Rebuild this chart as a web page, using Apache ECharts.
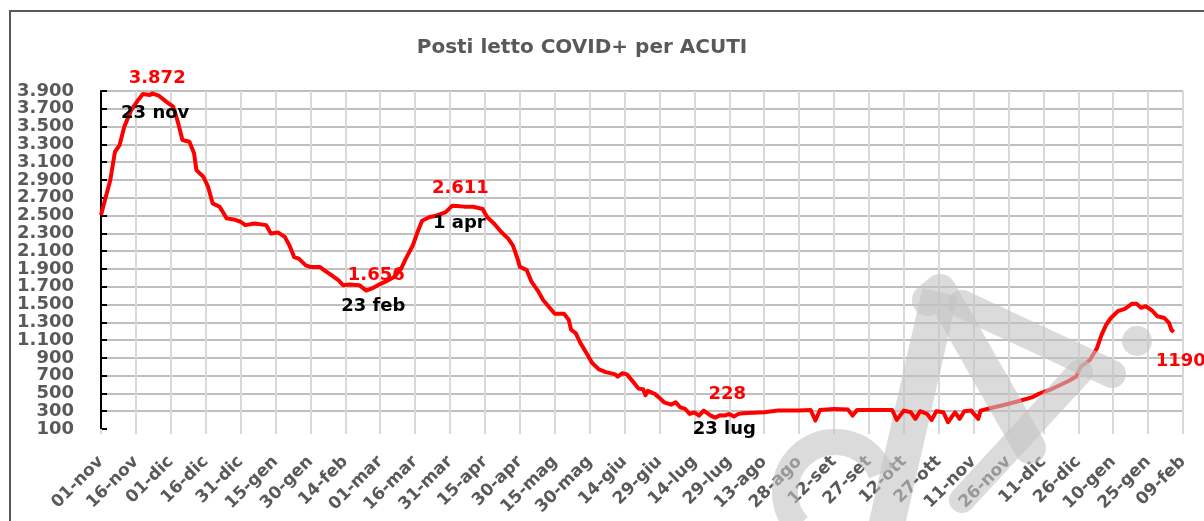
<!DOCTYPE html>
<html>
<head>
<meta charset="utf-8">
<script src="https://cdn.jsdelivr.net/npm/echarts@6/dist/echarts.min.js"></script>
<style>
  html, body { margin: 0; padding: 0; background: #fff; }
  #chart { width: 1204px; height: 521px; }
</style>
</head>
<body>
<div id="chart"></div>
<script>
// giorni contati dal 01-nov-2020
const etichette = ['01-nov', '16-nov', '01-dic', '16-dic', '31-dic', '15-gen', '30-gen', '14-feb',
  '01-mar', '16-mar', '31-mar', '15-apr', '30-apr', '15-mag', '30-mag', '14-giu', '29-giu',
  '14-lug', '29-lug', '13-ago', '28-ago', '12-set', '27-set', '12-ott', '27-ott', '11-nov',
  '26-nov', '11-dic', '26-dic', '10-gen', '25-gen', '09-feb'];

const giorni = [0, 4, 6, 8, 10, 13, 16, 18, 21, 22, 25, 28, 31, 33, 35, 38, 40, 41, 44, 46, 48,
  51, 54, 57, 60, 62, 66, 71, 73, 76, 79, 81, 83, 85, 88, 90, 94, 96, 99, 102, 104, 107, 111,
  114, 117, 119, 122, 126, 129, 131, 134, 136, 138, 141, 144, 148, 151, 153, 156, 160, 164,
  166, 169, 172, 175, 177, 179, 180, 183, 185, 188, 190, 193, 195, 199, 201, 202, 204, 206,
  209, 211, 214, 217, 221, 222, 224, 226, 229, 231, 233, 234, 235, 238, 240, 242, 245, 247,
  249, 251, 253, 255, 257, 259, 261, 262, 264, 266, 268, 270, 272, 274, 276, 285, 291, 300,
  305, 307, 309, 315, 321, 323, 325, 340, 342, 345, 348, 350, 352, 355, 357, 359, 362, 364,
  367, 369, 371, 374, 377, 378, 382, 388, 395, 400, 403, 408, 412, 416, 419, 421, 423, 425,
  428, 430, 432, 434, 437, 440, 443, 445, 447, 449, 452, 454, 457, 459, 460, 461];

const posti = [2505, 2899, 3217, 3292, 3499, 3686, 3799, 3866, 3855, 3872, 3844, 3780, 3724,
  3555, 3349, 3330, 3199, 3011, 2936, 2824, 2636, 2599, 2468, 2456, 2430, 2392, 2411, 2392,
  2299, 2310, 2260, 2163, 2033, 2015, 1940, 1922, 1922, 1884, 1829, 1773, 1717, 1724, 1717,
  1656, 1687, 1717, 1754, 1810, 1903, 2015, 2163, 2312, 2442, 2480, 2498, 2535, 2611, 2608,
  2600, 2598, 2574, 2481, 2407, 2314, 2240, 2165, 2016, 1923, 1886, 1756, 1644, 1551, 1458,
  1395, 1395, 1328, 1217, 1179, 1068, 938, 845, 770, 740, 714, 688, 726, 714, 621, 554, 547,
  480, 528, 495, 450, 400, 374, 400, 344, 325, 269, 288, 251, 307, 269, 251, 228, 255, 251,
  269, 240, 270, 277, 288, 307, 307, 314, 195, 314, 325, 318, 251, 315, 315, 202, 307, 288,
  214, 300, 270, 202, 300, 288, 176, 288, 214, 300, 307, 214, 307, 333, 370, 418, 455, 495,
  543, 592, 642, 687, 800, 838, 876, 1008, 1159, 1273, 1348, 1424, 1451, 1507, 1507, 1462,
  1481, 1424, 1367, 1348, 1292, 1216, 1190];

// punti annotati
const annGiorni = [22, 151, 114, 264, 461];
const annValori = [3872, 2611, 1656, 228, 1190];
const annTesti = ['3.872', '2.611', '1.656', '228', '1190'];
const annDate = ['23 nov', '1 apr', '23 feb', '23 lug', ''];

const offValore = [[5, -15], [8, -17], [10, -15], [12, -23], [7, 29]];
const offData = [[3, 20], [7, 18], [7, 16], [9, 12], [0, 0]];

const Y_MIN = 100, Y_MAX = 3900, Y_STEP = 200;

function migliaia(v) {
  return String(v).replace(/\B(?=(\d{3})+(?!\d))/g, '.');
}

const font = 'DejaVu Sans';
const punti = giorni.map((g, i) => [g, posti[i]]);

const marks = [];
annGiorni.forEach((g, i) => {
  marks.push({
    coord: [g, annValori[i]],
    label: { formatter: annTesti[i], color: '#ff0000', offset: offValore[i] }
  });
  if (annDate[i]) {
    marks.push({
      coord: [g, annValori[i]],
      label: { formatter: annDate[i], color: '#000000', offset: offData[i] }
    });
  }
});

// le etichette dell'asse y sono fitte: due assi sovrapposti, uno per le pari e uno per le dispari
function assey(pari, visibile) {
  return {
    type: 'value',
    min: Y_MIN,
    max: Y_MAX,
    interval: Y_STEP,
    position: 'left',
    axisLine: { show: visibile, lineStyle: { color: '#000000', width: 2 } },
    axisTick: { show: visibile, inside: true, length: 6, lineStyle: { color: '#000000', width: 2 } },
    splitLine: { show: visibile, showMinLine: false, lineStyle: { color: '#bfbfbf', width: 2 } },
    axisLabel: {
      margin: 27,
      fontFamily: font,
      fontSize: 18,
      fontWeight: 'bold',
      color: '#595959',
      showMinLabel: true,
      showMaxLabel: true,
      formatter: v => {
        const k = Math.round((v - Y_MIN) / Y_STEP);
        return (k % 2 === 0) === pari ? migliaia(v) : '';
      }
    }
  };
}

const grigio = 'rgba(195,195,195,0.6)';

const chart = echarts.init(document.getElementById('chart'));
chart.setOption({
  animation: false,
  backgroundColor: '#ffffff',
  title: {
    text: 'Posti letto COVID+ per ACUTI',
    left: 577,
    textAlign: 'center',
    top: 33,
    textStyle: { fontFamily: font, fontSize: 20, fontWeight: 'bold', color: '#595959' }
  },
  grid: { left: 101, right: 21, top: 91, bottom: 92 },
  xAxis: {
    type: 'value',
    min: 0,
    max: 465,
    interval: 15,
    axisLine: { show: false },
    axisTick: { show: true, length: 5, lineStyle: { color: '#d9d9d9', width: 2 } },
    splitLine: { show: true, lineStyle: { color: '#d9d9d9', width: 2 } },
    axisLabel: {
      rotate: 45,
      margin: 30,
      fontFamily: font,
      fontSize: 17,
      fontWeight: 'bold',
      color: '#595959',
      showMinLabel: true,
      showMaxLabel: true,
      formatter: v => etichette[Math.round(v / 15)]
    }
  },
  yAxis: [assey(true, true), assey(false, false)],
  series: [{
    type: 'line',
    data: punti,
    showSymbol: false,
    lineStyle: { color: '#ff0000', width: 4, join: 'round' },
    markPoint: {
      symbol: 'circle',
      symbolSize: 0,
      label: { show: true, position: 'inside', fontFamily: font, fontSize: 18, fontWeight: 'bold' },
      data: marks
    }
  }],
  graphic: [
    {
      type: 'rect', silent: true, z: 1,
      shape: { x: 10, y: 11, width: 1300, height: 600 },
      style: { fill: 'none', stroke: '#595959', lineWidth: 2 }
    },
    // filigrana: parte sotto la linea
    { type: 'line', silent: true, z: 1, shape: { x1: 882, y1: 545, x2: 940, y2: 292 },
      style: { stroke: grigio, lineWidth: 36, lineCap: 'butt' } },
    { type: 'arc', silent: true, z: 1, shape: { cx: 835, cy: 492, r: 50, startAngle: 2.4, endAngle: 5.9 },
      style: { fill: 'none', stroke: grigio, lineWidth: 26 } },
    // filigrana: parte sopra la linea
    { type: 'polyline', silent: true, z: 100, shape: { points: [[928, 300], [940, 290], [1030, 448]] },
      style: { fill: 'none', stroke: grigio, lineWidth: 32, lineCap: 'round', lineJoin: 'round' } },
    { type: 'line', silent: true, z: 100, shape: { x1: 962, y1: 304, x2: 1112, y2: 374 },
      style: { stroke: grigio, lineWidth: 28, lineCap: 'round' } },
    { type: 'line', silent: true, z: 100, shape: { x1: 962, y1: 500, x2: 1080, y2: 372 },
      style: { stroke: grigio, lineWidth: 26, lineCap: 'round' } },
    { type: 'circle', silent: true, z: 100, shape: { cx: 1137, cy: 341, r: 15 },
      style: { fill: grigio } }
  ]
});
</script>
</body>
</html>
